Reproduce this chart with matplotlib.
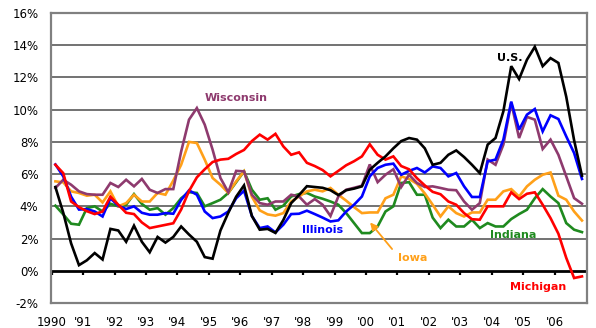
import numpy as np
import matplotlib
matplotlib.use("Agg")
import matplotlib.pyplot as plt

# Quarterly series, 1990Q1 .. 2006Q4 (percent)
us = [5.2, 3.6, 1.7, 0.35, 0.65, 1.1, 0.7, 2.6, 2.5, 1.8, 2.8, 1.8,
      1.15, 2.1, 1.75, 2.1, 2.75, 2.25, 1.8, 0.85, 0.75, 2.5, 3.6, 4.6,
      5.3, 3.4, 2.55, 2.6, 2.35, 3.15, 4.2, 4.7, 5.25, 5.2, 5.15, 5.0,
      4.7, 5.0, 5.1, 5.24, 6.27, 6.7, 7.1, 7.6, 8.05, 8.24, 8.14, 7.6,
      6.58, 6.7, 7.2, 7.47, 7.06, 6.58, 6.06, 7.83, 8.24, 9.9, 12.7, 11.9,
      13.1, 13.9, 12.7, 13.2, 12.9, 10.8, 8.1, 5.9]
michigan = [6.58, 6.06, 4.3, 3.95, 3.7, 3.52, 3.68, 4.6, 4.1, 3.6, 3.52, 3.0,
            2.65, 2.75, 2.85, 2.95, 3.8, 4.95, 5.8, 6.3, 6.75, 6.9, 6.95, 7.25,
            7.5, 8.05, 8.45, 8.14, 8.5, 7.72, 7.2, 7.35, 6.7, 6.5, 6.25, 5.86,
            6.2, 6.55, 6.8, 7.1, 7.85, 7.2, 6.9, 7.1, 6.5, 6.3, 5.75, 5.3,
            4.9, 4.75, 4.3, 4.1, 3.58, 3.2, 3.17, 4.0, 4.0, 4.0, 4.87, 4.45,
            4.78, 4.87, 4.1, 3.27, 2.3, 0.8, -0.45, -0.35]
illinois = [6.6, 5.86, 4.6, 3.8, 3.83, 3.68, 3.37, 4.5, 4.04, 3.83, 4.0, 3.6,
            3.48, 3.48, 3.58, 3.54, 4.4, 4.99, 4.72, 3.68, 3.27, 3.37, 3.68, 4.5,
            4.97, 3.4, 2.65, 2.75, 2.38, 2.86, 3.52, 3.54, 3.73, 3.52, 3.3, 3.06,
            3.13, 3.68, 4.1, 4.61, 5.86, 6.38, 6.58, 6.65, 5.96, 6.2, 6.38, 6.1,
            6.48, 6.38, 5.86, 6.07, 5.24, 4.58, 4.58, 6.79, 6.9, 8.14, 10.5, 8.76,
            9.69, 10.04, 8.65, 9.65, 9.42, 8.34, 7.31, 5.7]
indiana = [4.04, 3.5, 2.92, 2.86, 3.89, 4.0, 3.68, 4.16, 4.0, 4.1, 4.76, 4.15,
           3.79, 3.89, 3.48, 3.89, 4.5, 4.88, 4.83, 4.0, 4.2, 4.41, 4.83, 5.5,
           6.17, 5.03, 4.41, 4.5, 3.79, 4.04, 4.61, 4.76, 4.83, 4.61, 4.47, 4.3,
           4.1, 3.58, 2.96, 2.34, 2.34, 2.75, 3.68, 4.0, 5.45, 5.5, 4.72, 4.72,
           3.3, 2.65, 3.17, 2.75, 2.75, 3.17, 2.65, 2.96, 2.75, 2.75, 3.21, 3.52,
           3.79, 4.5, 5.07, 4.61, 4.2, 2.96, 2.55, 2.4]
iowa = [5.55, 5.49, 4.93, 4.83, 4.66, 4.72, 4.24, 4.93, 4.0, 4.2, 4.72, 4.3,
        4.3, 4.83, 4.72, 5.6, 6.58, 8.0, 7.93, 6.9, 5.76, 5.34, 4.83, 5.55,
        6.17, 4.6, 3.75, 3.5, 3.42, 3.58, 4.3, 4.61, 4.93, 5.03, 4.93, 5.14,
        4.72, 4.35, 3.95, 3.58, 3.62, 3.62, 4.5, 4.72, 5.86, 5.7, 5.4, 4.8,
        4.1, 3.37, 4.0, 3.58, 3.37, 3.62, 3.62, 4.41, 4.41, 4.93, 5.07, 4.61,
        5.24, 5.65, 5.96, 6.1, 4.66, 4.41, 3.68, 3.12]
wisconsin = [5.14, 5.65, 5.34, 4.93, 4.76, 4.72, 4.72, 5.45, 5.2, 5.65, 5.24, 5.7,
             5.03, 4.83, 5.07, 5.07, 7.4, 9.38, 10.1, 9.07, 7.52, 5.76, 4.87, 6.2,
             6.17, 4.72, 4.2, 4.1, 4.3, 4.3, 4.72, 4.61, 4.1, 4.45, 4.1, 3.4,
             4.61, 5.03, 5.15, 5.28, 6.6, 5.5, 5.96, 6.3, 5.2, 5.96, 5.45, 5.2,
             5.24, 5.14, 5.03, 5.0, 4.3, 3.79, 4.2, 6.9, 6.58, 7.83, 10.42, 8.24,
             9.55, 9.38, 7.56, 8.14, 7.2, 5.86, 4.51, 4.16]

years = list(range(1990, 2007))
year_labels = ["1990"] + ["'%02d" % (y % 100) for y in years[1:]]
y_ticks = list(range(-2, 17, 2))

x = 1990.12 + np.arange(len(us)) * 0.25

fig = plt.figure(figsize=(5.96, 3.28), dpi=100)
ax = fig.add_axes([51 / 596, 1 - 303 / 328, (587 - 51) / 596, (303 - 13) / 328])

ax.set_xlim(1989.98, 2007.03)
ax.set_ylim(-2, 16)

for v in y_ticks:
    if v == 0:
        ax.axhline(v, color="black", lw=2.0, zorder=2)
    elif v not in (-2, 16):
        ax.axhline(v, color="#5a5a5a", lw=1.2, zorder=1)

ax.vlines(years, -0.27, 0, color="black", lw=1.6, zorder=2)

series = [
    (indiana, "#1f8a1f"),
    (iowa, "#ffa019"),
    (wisconsin, "#8e3a6e"),
    (illinois, "#0000ff"),
    (michigan, "#ff0000"),
    (us, "#000000"),
]
for vals, col in series:
    ax.plot(x, vals, color=col, lw=1.9, zorder=3, solid_joinstyle="miter")

for s in ax.spines.values():
    s.set_color("#808080")
    s.set_linewidth(1.6)

ax.set_yticks(y_ticks)
ax.set_yticklabels(["%d%%" % v for v in y_ticks])
ax.set_xticks(years)
ax.set_xticklabels(year_labels)
ax.tick_params(axis="both", length=0, labelsize=8.5, colors="black")
ax.tick_params(axis="y", pad=9)
ax.tick_params(axis="x", pad=9)

fw = dict(fontweight="bold", fontsize=8, family="DejaVu Sans")
ax.text(2004.58, 13.23, "U.S.", color="#000000", ha="center", va="center", **fw)
ax.text(1995.87, 10.75, "Wisconsin", color="#8e3a6e", ha="center", va="center", **fw)
ax.text(1998.61, 2.55, "Illinois", color="#0000ff", ha="center", va="center", **fw)
ax.text(2001.47, 0.81, "Iowa", color="#ffa019", ha="center", va="center", **fw)
ax.text(2004.68, 2.24, "Indiana", color="#1f8a1f", ha="center", va="center", **fw)
ax.text(2005.48, -0.99, "Michigan", color="#ff0000", ha="center", va="center", **fw)
ax.annotate("", xy=(2000.13, 3.0), xytext=(2000.83, 1.35), zorder=6,
            arrowprops=dict(arrowstyle="-|>", color="#ffa019", lw=1.3,
                            mutation_scale=11, shrinkA=0, shrinkB=0))

fig.savefig("out.png", dpi=100)
